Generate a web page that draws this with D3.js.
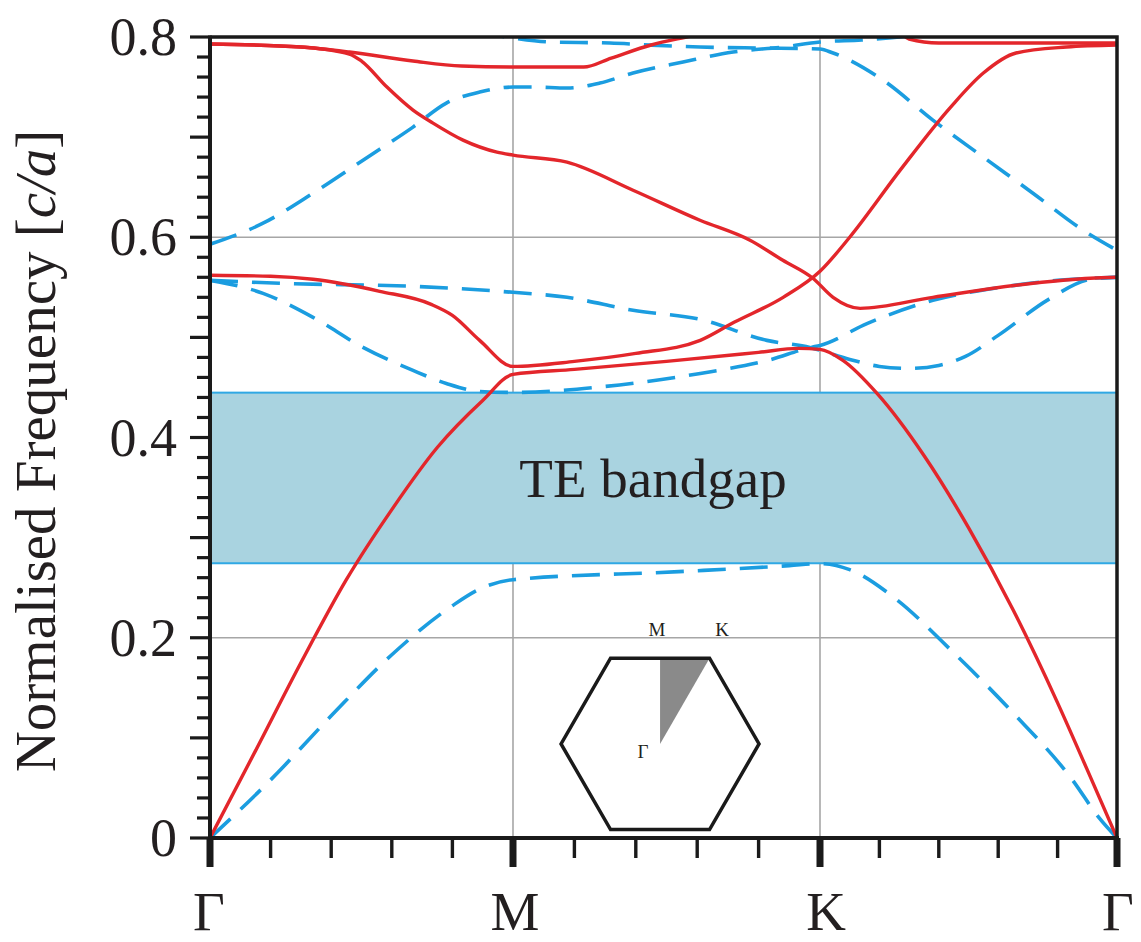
<!DOCTYPE html>
<html>
<head>
<meta charset="utf-8">
<script src="https://cdn.jsdelivr.net/npm/d3@7"></script>
<style>
  body { margin: 0; background: #fff; }
  text { font-family: "Liberation Serif", "Times New Roman", serif; fill: #231f20; }
</style>
</head>
<body>
<svg id="chart" width="1141" height="942"></svg>
<script>
// High-symmetry points along the Brillouin-zone path
const kLabels = ["Γ", "M", "K", "Γ"];
const kPoints = [0, 1, 2, 3];
const yTicks = [0, 0.2, 0.4, 0.6, 0.8];
const gridFreqs = [0.2, 0.4, 0.6];

// Band gap limits (normalised frequency)
const gapLow = 0.2744;
const gapHigh = 0.4448;
const gapLabel = "TE bandgap";

// Solid bands: [k, normalised frequency]
const red1 = [[0,0],[0.15,0.087],[0.3,0.175],[0.45,0.258],[0.6,0.328],[0.75,0.39],[0.9,0.437],[1,0.463],
  [1.2,0.468],[1.5,0.476],[1.8,0.485],[1.93,0.489],[2,0.488],[2.077,0.477],[2.192,0.444],[2.35,0.382],
  [2.5,0.31],[2.65,0.228],[2.8,0.135],[2.9,0.068],[3,0]];
const red2 = [[0,0.562],[0.2,0.561],[0.34,0.558],[0.56,0.546],[0.73,0.533],[0.8,0.522],[0.89,0.497],[1,0.471],
  [1.2,0.476],[1.4,0.484],[1.61,0.497],[1.72,0.515],[1.88,0.540],[2,0.566],[2.1,0.600],[2.27,0.667],
  [2.44,0.730],[2.55,0.764],[2.66,0.784],[2.83,0.790],[3,0.792]];
const red3 = [[0,0.793],[0.3,0.79],[0.46,0.783],[0.5,0.776],[0.584,0.750],[0.67,0.727],[0.736,0.714],
  [0.835,0.697],[0.947,0.685],[1,0.682],[1.176,0.675],[1.391,0.647],[1.609,0.617],[1.772,0.597],
  [1.879,0.577],[1.977,0.559],[2.044,0.540],[2.135,0.529],[2.38,0.540],[2.717,0.554],[2.91,0.559],[3,0.56]];
const red4 = [[0,0.793],[0.3,0.79],[0.46,0.785],[0.67,0.776],[0.83,0.771],[1,0.77],[1.23,0.77],
  [1.32,0.779],[1.45,0.792],[1.58,0.801],[1.68,0.808]];
const red5 = [[2.25,0.812],[2.3,0.798],[2.4,0.794],[2.7,0.794],[3,0.794]];

// Dashed bands: [k, normalised frequency]
const blue1 = [[0,0],[0.2,0.058],[0.4,0.122],[0.6,0.183],[0.8,0.232],[0.9,0.250],[1,0.258],[1.54,0.266],
  [1.9,0.272],[2,0.274],[2.1,0.268],[2.25,0.24],[2.45,0.185],[2.65,0.125],[2.85,0.058],[2.94,0.02],[3,0]];
const blue2 = [[0,0.557],[0.175,0.544],[0.34,0.520],[0.505,0.490],[0.67,0.467],[0.78,0.454],[0.89,0.446],
  [1,0.445],[1.3,0.451],[1.61,0.464],[1.83,0.477],[1.97,0.490],[2,0.492],[2.16,0.514],[2.38,0.537],
  [2.61,0.550],[2.8,0.557],[3,0.560]];
const blue3 = [[0,0.557],[0.23,0.554],[0.67,0.551],[1,0.545],[1.176,0.540],[1.391,0.527],[1.609,0.518],
  [1.827,0.497],[1.967,0.490],[2.1,0.478],[2.2,0.471],[2.3,0.469],[2.4,0.472],[2.49,0.481],[2.6,0.502],
  [2.77,0.538],[2.91,0.558],[3,0.560]];
const blue4 = [[0,0.593],[0.175,0.614],[0.34,0.644],[0.505,0.677],[0.67,0.710],[0.78,0.734],[0.89,0.745],
  [1,0.750],[1.065,0.750],[1.176,0.749],[1.283,0.754],[1.391,0.764],[1.554,0.775],[1.717,0.785],
  [1.88,0.790],[2,0.795],[2.14,0.797],[2.3,0.801],[2.4,0.805]];
const blue5 = [[0.88,0.805],[1,0.799],[1.12,0.795],[1.316,0.794],[1.446,0.792],[1.609,0.790],[1.805,0.789],
  [2,0.788],[2.044,0.784],[2.212,0.757],[2.38,0.717],[2.55,0.680],[2.717,0.644],[2.886,0.607],[3,0.587]];

const solidBands = [red1, red2, red3, red4, red5];
const dashedBands = [blue1, blue2, blue3, blue4, blue5];

const RED = "#e3262b";
const BLUE = "#1b9de0";

const svg = d3.select("#chart");
const pL = 210, pR = 1117, pT = 37, pB = 838;

const x = d3.scaleLinear().domain(kPoints).range([pL, 513, 820, pR]);
const y = d3.scaleLinear().domain([0, 0.8]).range([pB, pT]);

svg.append("defs").append("clipPath").attr("id", "plotClip")
  .append("rect").attr("x", pL).attr("y", pT).attr("width", pR - pL).attr("height", pB - pT);

// grid
const grid = svg.append("g").attr("stroke", "#a6a6a6").attr("stroke-width", 1.6);
grid.selectAll("line.h").data(gridFreqs).join("line").attr("class", "h")
  .attr("x1", pL).attr("x2", pR).attr("y1", d => y(d)).attr("y2", d => y(d));
grid.selectAll("line.v").data([1, 2]).join("line").attr("class", "v")
  .attr("x1", d => x(d)).attr("x2", d => x(d)).attr("y1", pT).attr("y2", pB);

// band gap region
svg.append("rect")
  .attr("x", pL).attr("width", pR - pL)
  .attr("y", y(gapHigh)).attr("height", y(gapLow) - y(gapHigh))
  .attr("fill", "#a9d3e0").attr("stroke", "#30a8e4").attr("stroke-width", 2);

svg.append("text")
  .attr("x", 653).attr("y", y((gapLow + gapHigh) / 2) + 19)
  .attr("text-anchor", "middle").attr("font-size", 55)
  .text(gapLabel);

// Brillouin zone inset
const insetK = 1.479, insetF = 0.094, R = 99;
const cx = x(insetK), cy = y(insetF);
const hexPts = d3.range(6).map(i => [cx + R * Math.cos(Math.PI / 3 * i), cy + R * Math.sin(Math.PI / 3 * i)]);
const hh = R * Math.sqrt(3) / 2;
svg.append("path")
  .attr("d", `M${cx},${cy}L${cx},${cy - hh}L${cx + R / 2},${cy - hh}Z`)
  .attr("fill", "#8a8a8a");
svg.append("polygon")
  .attr("points", hexPts.map(p => p.join(",")).join(" "))
  .attr("fill", "none").attr("stroke", "#1a1a1a").attr("stroke-width", 3.5).attr("stroke-linejoin", "miter");
svg.append("text").attr("x", cx - 3).attr("y", cy - hh - 22).attr("text-anchor", "middle").attr("font-size", 19).text("M");
svg.append("text").attr("x", cx + 62).attr("y", cy - hh - 22).attr("text-anchor", "middle").attr("font-size", 19).text("K");
svg.append("text").attr("x", cx - 17).attr("y", cy + 14).attr("text-anchor", "middle").attr("font-size", 19).text("Γ");

// bands
const line = d3.line().x(d => x(d[0])).y(d => y(d[1])).curve(d3.curveMonotoneX);
const bands = svg.append("g").attr("clip-path", "url(#plotClip)").attr("fill", "none");
bands.selectAll("path.dash").data(dashedBands).join("path").attr("class", "dash")
  .attr("d", line).attr("stroke", BLUE).attr("stroke-width", 3.6).attr("stroke-dasharray", "28,14");
bands.selectAll("path.solid").data(solidBands).join("path").attr("class", "solid")
  .attr("d", line).attr("stroke", RED).attr("stroke-width", 3.4);

// frame: top and right edges
svg.append("path")
  .attr("d", `M${pL},${pT}H${pR}V${pB}`)
  .attr("fill", "none").attr("stroke", "#1a1a1a").attr("stroke-width", 3.5);

// y axis
const yMinor = d3.range(0, 0.8001, 0.02);
const yAx = svg.append("g");
yAx.append("line").attr("x1", pL).attr("x2", pL).attr("y1", pT - 1.5).attr("y2", pB + 2)
  .attr("stroke", "#1a1a1a").attr("stroke-width", 4);
yAx.selectAll("line.t").data(yMinor).join("line").attr("class", "t")
  .attr("y1", d => y(d)).attr("y2", d => y(d))
  .attr("x1", d => (Math.abs(d * 10 - Math.round(d * 10)) < 1e-6) ? pL - 20 : pL - 13)
  .attr("x2", pL)
  .attr("stroke", "#1a1a1a").attr("stroke-width", 3.2);
yAx.selectAll("text").data(yTicks).join("text")
  .attr("x", 177).attr("y", d => y(d) + 18)
  .attr("text-anchor", "end").attr("font-size", 54)
  .text(d => d === 0 ? "0" : d.toFixed(1));

// x axis
const xAx = svg.append("g");
xAx.append("line").attr("x1", pL - 2).attr("x2", pR + 2).attr("y1", pB).attr("y2", pB)
  .attr("stroke", "#1a1a1a").attr("stroke-width", 4);
const xMinor = [];
for (let s = 0; s < 3; s++) for (let j = 1; j < 5; j++) xMinor.push(s + j / 5);
xAx.selectAll("line.minor").data(xMinor).join("line").attr("class", "minor")
  .attr("x1", d => x(d)).attr("x2", d => x(d)).attr("y1", pB).attr("y2", pB + 20)
  .attr("stroke", "#1a1a1a").attr("stroke-width", 3.4);
xAx.selectAll("line.major").data(kPoints).join("line").attr("class", "major")
  .attr("x1", d => x(d)).attr("x2", d => x(d)).attr("y1", pB).attr("y2", pB + 29)
  .attr("stroke", "#1a1a1a").attr("stroke-width", 7);
xAx.selectAll("text").data(kPoints).join("text")
  .attr("x", (d, i) => x(d) + [-1, 2, 6, 1][i]).attr("y", 930)
  .attr("text-anchor", "middle").attr("font-size", 55)
  .text((d, i) => kLabels[i]);

// y axis title
const title = svg.append("text")
  .attr("transform", "translate(55,451) rotate(-90)")
  .attr("text-anchor", "middle").attr("font-size", 57);
title.append("tspan").text("Normalised Frequency [");
title.append("tspan").attr("font-style", "italic").text("c/a");
title.append("tspan").text("]");
</script>
</body>
</html>
